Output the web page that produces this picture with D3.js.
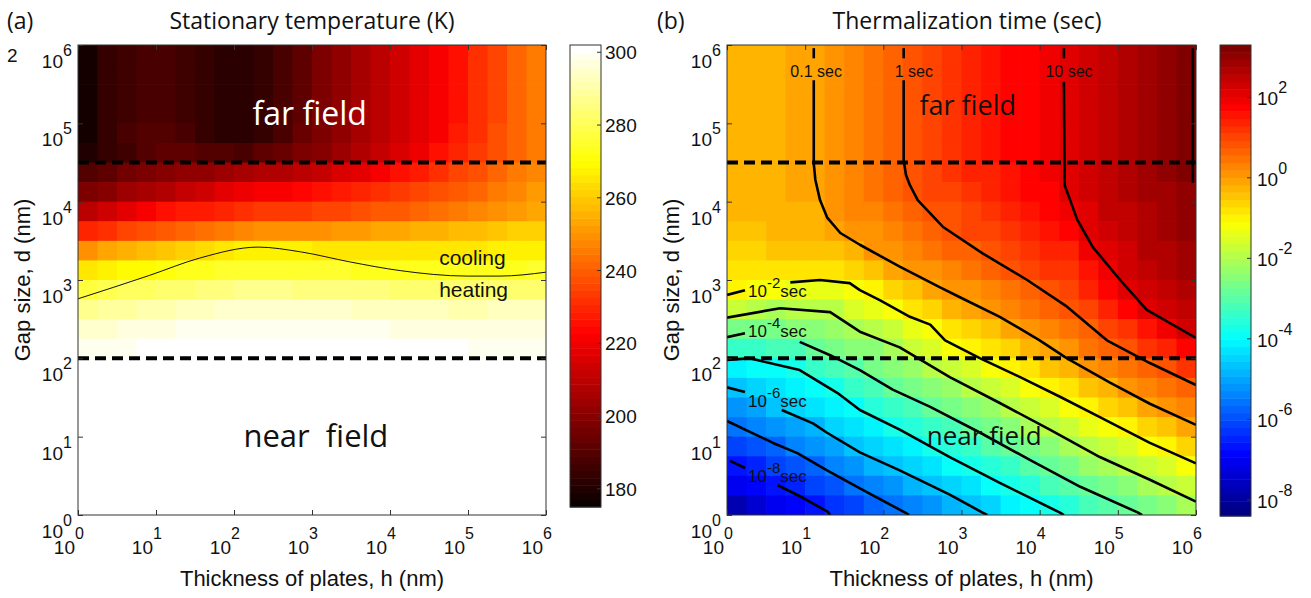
<!DOCTYPE html>
<html>
<head>
<meta charset="utf-8">
<script src="https://cdn.jsdelivr.net/npm/d3@7"></script>
<style>
body { margin:0; background:#fff; }
svg text { font-family: "Liberation Sans", Arial, sans-serif; fill:#111; }
svg text.sans { font-family: "Open Sans", "Liberation Sans", sans-serif; }
</style>
</head>
<body>
<svg id="chart"></svg>
<script>
// ---------- values ----------
// grid cell edges, in decades (same for h and d)
var logEdges = [0,0.25,0.5,0.75,1,1.25,1.5,1.75,2,2.25,2.5,2.75,3,3.25,3.5,3.75,4,4.25,4.5,4.75,5,5.25,5.5,5.75,6];
var decades = [0,1,2,3,4,5,6];
var tempTicks = [180,200,220,240,260,280,300];
var tauTicks = [-8,-6,-4,-2,0,2];
var fieldLimits = [2,4.5];   // log10 d of the dashed near/far field limits

// (a) stationary temperature, K. one row per gap d (top row = 10^6), one value per thickness h
var tempRows = [
  [177,183,186,188,188,186,183,181,181,183,187,192,197,201,205,209,213,217,221,226,231,236,241,245],
  [177,183,186,188,188,186,183,181,181,183,187,192,197,201,205,209,213,217,221,226,231,236,241,245],
  [177,183,186,188,188,186,183,181,181,183,187,192,197,201,205,209,213,217,221,226,231,236,241,245],
  [177,183,186,188,188,186,183,181,181,183,187,192,197,201,205,209,213,217,221,226,231,236,241,245],
  [178,184,187,189,189,187,184,182,182,184,188,193,198,202,206,210,214,218,222,227,232,237,242,246],
  [180,183,186,189,192,191,190,189,188,191,194,197,200,204,208,212,216,220,225,229,233,237,242,246],
  [190,192.5,195,197.5,200,201,202.5,204,205,207,208.5,210,212,215,218.5,222,225,228,231.5,235,238,241,245,248],
  [198,200.5,203,205.5,208,211,214,217,220,221,222.5,224,225,227,229,231,233,235,237.5,240,242,245,248,251],
  [210,214,217.5,221,225,227,228.5,230,232,233,233.5,234,235,236,237.5,239,240,242,243.5,245,247,249,252,254],
  [230,232.5,235,237.5,240,242,244,246,248,248.5,249,249.5,250,251,252,253,254,255,256,257,258,259.5,261,262],
  [250,252.5,255,257.5,260,262,264,265.5,267,267,266.5,266.5,266,266,266,266,266,266,266,266,266,266.5,267,268],
  [265,267,268.5,270,272,273,274,275,276,276,275.5,275,275,274.5,274,273.5,273,273,273,273,273,273.5,274,275],
  [278,279,280.5,282,283,284,285,286,287,287,286.5,286,286,285.5,285,284.5,284,284,283.5,283,283,283.5,284,284],
  [288,289,290,291,292,293,294,295,296,296,295.5,295,295,294.5,294,293.5,293,293,292.5,292,292,292.5,293,293],
  [295,296,296.5,297,298,298.5,299,299.5,300,300,300,300,300,299.5,299,298.5,298,298,297.5,297,297,297.5,298,298],
  [299,299.5,300,300.5,301,301,301.5,302,302,302,302,302,302,302,301.5,301,301,301,300.5,300.5,300,300,300,300],
  [302,302,302,302,302,302,302,302,302,302,302,302,302,302,302,302,302,302,302,302,302,302,302,302],
  [302,302,302,302,302,302,302,302,302,302,302,302,302,302,302,302,302,302,302,302,302,302,302,302],
  [302,302,302,302,302,302,302,302,302,302,302,302,302,302,302,302,302,302,302,302,302,302,302,302],
  [302,302,302,302,302,302,302,302,302,302,302,302,302,302,302,302,302,302,302,302,302,302,302,302],
  [302,302,302,302,302,302,302,302,302,302,302,302,302,302,302,302,302,302,302,302,302,302,302,302],
  [302,302,302,302,302,302,302,302,302,302,302,302,302,302,302,302,302,302,302,302,302,302,302,302],
  [302,302,302,302,302,302,302,302,302,302,302,302,302,302,302,302,302,302,302,302,302,302,302,302],
  [302,302,302,302,302,302,302,302,302,302,302,302,302,302,302,302,302,302,302,302,302,302,302,302]
];

// cooling / heating boundary, [log10 h, log10 d]
var coolHeatLine = [[0,2.76],[0.92,3.06],[1.56,3.28],[2.31,3.42],[2.85,3.36],[3.49,3.23],[4.13,3.12],[4.99,3.05],[5.41,3.05],[6,3.10]];

// (b) log10 of thermalization time (colour value). one column per thickness h, values from d=10^6 down
var tauCols = [
  [-0.3,-0.3,-0.3,-0.3,-0.28,-0.25,-0.25,-0.27,-0.3,-0.38,-0.6,-0.82,-1.05,-1.74,-2.59,-3.38,-4.05,-4.64,-5.15,-5.65,-6.13,-6.63,-7.12,-7.7],
  [-0.25,-0.25,-0.25,-0.25,-0.25,-0.25,-0.24,-0.26,-0.3,-0.38,-0.58,-0.82,-1.15,-1.89,-2.67,-3.39,-4.0,-4.47,-4.95,-5.42,-5.92,-6.42,-6.91,-7.41],
  [-0.2,-0.2,-0.2,-0.2,-0.2,-0.2,-0.2,-0.22,-0.26,-0.33,-0.52,-0.78,-1.26,-2.02,-2.61,-3.26,-3.87,-4.29,-4.71,-5.18,-5.66,-6.14,-6.63,-7.12],
  [-0.12,-0.12,-0.12,-0.12,-0.12,-0.12,-0.12,-0.14,-0.2,-0.3,-0.48,-0.75,-1.36,-1.98,-2.55,-3.13,-3.76,-4.15,-4.54,-4.98,-5.46,-5.92,-6.39,-6.85],
  [0,0,0,0,0,0,-0.02,-0.08,-0.18,-0.3,-0.5,-0.8,-1.38,-1.95,-2.43,-2.89,-3.46,-3.96,-4.34,-4.75,-5.2,-5.67,-6.14,-6.61],
  [0.19,0.19,0.19,0.19,0.19,0.19,0.19,0.15,0.08,-0.1,-0.5,-0.89,-1.33,-1.86,-2.3,-2.71,-3.18,-3.71,-4.11,-4.49,-4.95,-5.39,-5.88,-6.35],
  [0.37,0.37,0.37,0.37,0.37,0.37,0.37,0.33,0.22,0.08,-0.22,-0.7,-1.17,-1.6,-2.03,-2.48,-2.93,-3.39,-3.84,-4.24,-4.64,-5.12,-5.61,-6.09],
  [0.54,0.54,0.54,0.54,0.54,0.54,0.54,0.48,0.34,0.17,0.02,-0.43,-0.91,-1.38,-1.85,-2.37,-2.69,-3.13,-3.58,-4.02,-4.44,-4.88,-5.36,-5.84],
  [0.71,0.71,0.71,0.71,0.71,0.71,0.71,0.64,0.48,0.3,0.12,-0.16,-0.66,-1.15,-1.69,-2.15,-2.5,-2.86,-3.33,-3.81,-4.24,-4.67,-5.12,-5.57],
  [0.87,0.87,0.87,0.87,0.87,0.87,0.87,0.8,0.6,0.41,0.22,0.03,-0.42,-0.9,-1.35,-1.78,-2.22,-2.65,-3.1,-3.57,-4.02,-4.46,-4.91,-5.34],
  [1.03,1.03,1.03,1.03,1.03,1.03,1.03,0.95,0.83,0.62,0.39,0.15,-0.16,-0.64,-1.14,-1.57,-1.98,-2.44,-2.89,-3.33,-3.77,-4.22,-4.68,-5.12],
  [1.19,1.19,1.19,1.19,1.19,1.19,1.15,1.06,0.92,0.82,0.56,0.3,0.05,-0.35,-0.78,-1.23,-1.73,-2.22,-2.66,-3.1,-3.54,-4.0,-4.46,-4.91],
  [1.35,1.35,1.35,1.35,1.35,1.35,1.3,1.2,1.08,0.95,0.74,0.46,0.18,-0.14,-0.56,-0.98,-1.48,-1.98,-2.44,-2.87,-3.32,-3.76,-4.21,-4.65],
  [1.51,1.51,1.51,1.51,1.51,1.51,1.45,1.36,1.23,1.08,0.9,0.62,0.33,0.04,-0.37,-0.79,-1.23,-1.73,-2.2,-2.64,-3.08,-3.52,-3.97,-4.42],
  [1.67,1.67,1.67,1.67,1.67,1.67,1.6,1.5,1.38,1.22,1.02,0.8,0.5,0.21,-0.12,-0.57,-1.0,-1.48,-1.97,-2.41,-2.84,-3.29,-3.73,-4.18],
  [1.82,1.82,1.82,1.82,1.82,1.82,1.76,1.66,1.52,1.35,1.15,0.95,0.68,0.38,0.09,-0.32,-0.78,-1.24,-1.71,-2.16,-2.6,-3.04,-3.5,-3.96],
  [1.98,1.98,1.98,1.98,1.98,1.98,1.92,1.82,1.68,1.52,1.33,1.12,0.87,0.57,0.27,-0.05,-0.53,-1.01,-1.47,-1.94,-2.37,-2.8,-3.27,-3.71],
  [2.14,2.14,2.14,2.14,2.14,2.14,2.12,2.1,1.93,1.7,1.47,1.24,1.02,0.78,0.47,0.17,-0.23,-0.75,-1.24,-1.69,-2.15,-2.58,-3.03,-3.51],
  [2.31,2.31,2.31,2.31,2.31,2.31,2.28,2.24,2.18,2.12,1.93,1.63,1.34,1.03,0.72,0.38,0.03,-0.46,-0.99,-1.45,-1.9,-2.35,-2.78,-3.27],
  [2.48,2.48,2.48,2.48,2.48,2.48,2.48,2.45,2.4,2.3,2.2,2.01,1.68,1.35,1.01,0.65,0.26,-0.18,-0.72,-1.23,-1.67,-2.12,-2.58,-3.04],
  [2.64,2.64,2.64,2.64,2.64,2.64,2.62,2.58,2.52,2.44,2.34,2.22,2.07,1.66,1.25,0.86,0.46,0.07,-0.45,-0.99,-1.46,-1.91,-2.38,-2.84],
  [2.81,2.81,2.81,2.81,2.81,2.81,2.79,2.76,2.72,2.66,2.58,2.47,2.33,2.14,1.65,1.15,0.67,0.28,-0.16,-0.7,-1.22,-1.7,-2.18,-2.63],
  [2.98,2.98,2.98,2.98,2.98,2.98,2.96,2.93,2.89,2.83,2.75,2.64,2.5,2.22,1.9,1.39,0.89,0.47,0.07,-0.44,-0.99,-1.46,-1.93,-2.41],
  [3.15,3.15,3.15,3.15,3.15,3.15,3.12,3.08,3.03,2.96,2.88,2.78,2.66,2.5,2.25,1.68,1.15,0.67,0.27,-0.16,-0.72,-1.24,-1.71,-2.18]
];

// iso-time contours, [log10 h, log10 d]; gaps are where the labels sit
var tauContours = [
  [[[0.04,0.69],[0.23,0.60]], [[0.65,0.38],[0.97,0.22],[1.29,0.04],[1.32,0]]],
  [[[0,1.2],[0.59,0.92],[0.9,0.79],[1.28,0.57],[1.7,0.34],[2.28,0.03],[2.33,0]]],
  [[[0,1.63],[0.23,1.57]], [[0.7,1.34],[1.1,1.17],[1.28,1.05],[1.7,0.8],[2.21,0.57],[2.85,0.26],[3.27,0.03],[3.33,0]]],
  [[[0,1.98],[0.29,2.0],[0.93,1.85],[1.41,1.56],[1.7,1.34],[2.21,1.09],[2.85,0.74],[3.49,0.41],[4.26,0.03],[4.31,0]]],
  [[[0,2.27],[0.23,2.32]], [[0.93,2.21],[1.32,2.04],[1.7,1.85],[2.12,1.6],[2.6,1.38],[3.24,1.05],[3.88,0.7],[4.52,0.36],[5.26,0.03],[5.31,0]]],
  [[[0,2.52],[0.68,2.64],[1.32,2.59],[1.7,2.34],[2.21,2.14],[2.85,1.76],[3.49,1.43],[4.13,1.09],[4.77,0.74],[5.41,0.45],[6,0.17]]],
  [[[0,2.81],[0.23,2.87]], [[0.81,2.97],[1.19,3.0],[1.57,2.96],[1.7,2.87],[1.96,2.74],[2.34,2.53],[2.6,2.43],[2.79,2.23],[3.24,2.0],[3.75,1.76],[4.26,1.51],[4.77,1.25],[5.41,0.92],[6,0.66]]],
  [[[1.11,5.96],[1.11,5.83]], [[1.11,5.55],[1.11,4.49],[1.13,4.28],[1.19,4.02],[1.28,3.8],[1.45,3.6],[1.7,3.45],[2.21,3.17],[2.72,2.91],[2.98,2.78],[3.49,2.53],[4.0,2.23],[4.35,2.0],[4.9,1.69],[5.41,1.42],[6,1.15]]],
  [[[2.26,5.96],[2.26,5.83]], [[2.26,5.55],[2.26,4.53],[2.29,4.34],[2.34,4.21],[2.44,4.02],[2.76,3.68],[3.27,3.34],[3.84,3.0],[4.35,2.66],[4.86,2.23],[5.41,1.94],[6,1.66]]],
  [[[4.31,5.96],[4.31,5.83]], [[4.31,5.53],[4.32,4.21],[4.39,4.02],[4.48,3.77],[4.68,3.42],[5.03,3.0],[5.37,2.62],[6,2.26]]],
  [[[5.96,5.96],[5.96,4.24]]]
];
var secLabels = [{text:"0.1 sec", h:1.14, d:5.59}, {text:"1 sec", h:2.39, d:5.59}, {text:"10 sec", h:4.375, d:5.59}];
var powLabels = [{exp:"-2", h:0.27, d:2.78}, {exp:"-4", h:0.27, d:2.27}, {exp:"-6", h:0.27, d:1.38}, {exp:"-8", h:0.27, d:0.42}];

// ---------- drawing ----------
var svg = d3.select("#chart").attr("width",1311).attr("height",598);
var pow10 = function(e){ return Math.pow(10,e); };

var boxA = {left:78, right:546, top:45, bottom:515};
var boxB = {left:727, right:1196, top:45, bottom:515};
var barA = {left:570, right:601, top:45, bottom:507};
var barB = {left:1220, right:1251, top:45, bottom:516};

var hot = d3.scaleLinear().domain([0,0.375,0.75,1]).range(["#0b0000","#ff0000","#ffff00","#ffffff"]);
var jet = d3.scaleLinear().domain([0,0.125,0.375,0.625,0.875,1])
            .range(["#000080","#0000ff","#00ffff","#ffff00","#ff0000","#800000"]);

// 64 steps, like the matlab colormaps (first and last step hit the ends)
var quantized = function(map, lo, hi) {
    return function(v) {
        var k = Math.floor((v-lo)/(hi-lo)*64);
        k = Math.max(0, Math.min(63, k));
        return map(k/63);
    };
};
var tempColor = quantized(hot, 175, 302);
var tauColor = quantized(jet, -8.4, 3.3);

var makeScales = function(box) {
    return {
        x: d3.scaleLog().domain([1,1e6]).range([box.left, box.right]),
        y: d3.scaleLog().domain([1,1e6]).range([box.bottom, box.top])
    };
};

var drawHeat = function(id, box, sc, valueAt, color) {
    svg.append("clipPath").attr("id","clip-"+id).append("rect")
        .attr("x",box.left).attr("y",box.top)
        .attr("width",box.right-box.left).attr("height",box.bottom-box.top);
    var n = logEdges.length-1;
    var cells = [];
    for (var i = 0; i < n; i++) {
        for (var j = 0; j < n; j++) cells.push({i:i, j:j, v:valueAt(i,j)});
    }
    svg.append("g").attr("clip-path","url(#clip-"+id+")")
        .selectAll("rect").data(cells).enter().append("rect")
        .attr("x", function(d){ return sc.x(pow10(logEdges[d.i])); })
        .attr("y", function(d){ return sc.y(pow10(logEdges[n-d.j])); })
        .attr("width", function(d){ return sc.x(pow10(logEdges[d.i+1])) - sc.x(pow10(logEdges[d.i])) + 0.7; })
        .attr("height", function(d){ return sc.y(pow10(logEdges[n-d.j-1])) - sc.y(pow10(logEdges[n-d.j])) + 0.7; })
        .attr("fill", function(d){ return color(d.v); });
    return svg.append("g").attr("clip-path","url(#clip-"+id+")");
};

var drawDashes = function(g, sc) {
    g.selectAll("line.limit").data(fieldLimits).enter().append("line")
        .attr("x1", sc.x(1)).attr("x2", sc.x(1e6))
        .attr("y1", function(d){ return sc.y(pow10(d)); })
        .attr("y2", function(d){ return sc.y(pow10(d)); })
        .attr("stroke","#000").attr("stroke-width",4).attr("stroke-dasharray","11,6");
};

var drawFrame = function(box, sc) {
    var g = svg.append("g");
    var vals = decades.map(pow10);
    g.append("g").attr("transform","translate(0,"+box.bottom+")")
        .call(d3.axisBottom(sc.x).tickValues(vals).tickSize(-5).tickFormat(""));
    g.append("g").attr("transform","translate(0,"+box.top+")")
        .call(d3.axisTop(sc.x).tickValues(vals).tickSize(-5).tickFormat(""));
    g.append("g").attr("transform","translate("+box.left+",0)")
        .call(d3.axisLeft(sc.y).tickValues(vals).tickSize(-5).tickFormat(""));
    g.append("g").attr("transform","translate("+box.right+",0)")
        .call(d3.axisRight(sc.y).tickValues(vals).tickSize(-5).tickFormat(""));
    g.selectAll(".domain").remove();
    g.selectAll(".tick line").attr("stroke","#333");
    g.append("rect").attr("x",box.left).attr("y",box.top)
        .attr("width",box.right-box.left).attr("height",box.bottom-box.top)
        .attr("fill","none").attr("stroke","#333").attr("stroke-width",1);

    decades.forEach(function(e) {
        var tx = sc.x(pow10(e)), ty = sc.y(pow10(e));
        g.append("text").attr("x",tx-3).attr("y",554).attr("text-anchor","end").attr("font-size",19).text("10");
        g.append("text").attr("x",tx-3).attr("y",539).attr("font-size",16).text(e);
        g.append("text").attr("x",box.left-15).attr("y",ty+23).attr("text-anchor","end").attr("font-size",19).text("10");
        g.append("text").attr("x",box.left-15).attr("y",ty+11).attr("font-size",16).text(e);
    });

    var cx = (box.left+box.right)/2;
    g.append("text").attr("x",cx).attr("y",586).attr("text-anchor","middle").attr("font-size",22)
        .text("Thickness of plates, h (nm)");
    g.append("text").attr("transform","translate("+(box.left-48)+","+((box.top+box.bottom)/2)+") rotate(-90)")
        .attr("text-anchor","middle").attr("font-size",22).text("Gap size, d (nm)");
};

var drawBar = function(bar, lo, hi, color) {
    var yb = d3.scaleLinear().domain([lo,hi]).range([bar.bottom, bar.top]);
    var g = svg.append("g");
    g.selectAll("rect").data(d3.range(64)).enter().append("rect")
        .attr("x",bar.left).attr("width",bar.right-bar.left)
        .attr("y", function(k){ return yb(lo+(k+1)*(hi-lo)/64); })
        .attr("height", function(k){ return yb(lo+k*(hi-lo)/64) - yb(lo+(k+1)*(hi-lo)/64) + 0.5; })
        .attr("fill", function(k){ return color(lo+(k+0.5)*(hi-lo)/64); });
    g.append("rect").attr("x",bar.left).attr("y",bar.top)
        .attr("width",bar.right-bar.left).attr("height",bar.bottom-bar.top)
        .attr("fill","none").attr("stroke","#333");
    return {g:g, y:yb};
};

// ----- panel (a) -----
var scA = makeScales(boxA);
var overA = drawHeat("a", boxA, scA, function(i,j){ return tempRows[j][i]; }, tempColor);
overA.append("path").datum(coolHeatLine)
    .attr("d", d3.line().curve(d3.curveMonotoneX)
        .x(function(p){ return scA.x(pow10(p[0])); })
        .y(function(p){ return scA.y(pow10(p[1])); }))
    .attr("fill","none").attr("stroke","#111").attr("stroke-width",1);
drawDashes(overA, scA);
drawFrame(boxA, scA);

svg.append("text").attr("class","sans").attr("x",scA.x(pow10(2.97))).attr("y",scA.y(pow10(4.98)))
    .attr("text-anchor","middle").attr("font-size",32).style("fill","#fff").text("far field");
svg.append("text").attr("class","sans").attr("x",scA.x(pow10(3.05))).attr("y",scA.y(pow10(0.87)))
    .attr("text-anchor","middle").attr("font-size",31).attr("xml:space","preserve").text("near  field");
svg.append("text").attr("x",scA.x(pow10(4.63))).attr("y",scA.y(pow10(3.19))).attr("font-size",21).text("cooling");
svg.append("text").attr("x",scA.x(pow10(4.63))).attr("y",scA.y(pow10(2.78))).attr("font-size",21).text("heating");

var cbA = drawBar(barA, 175, 302, tempColor);
tempTicks.forEach(function(t) {
    var ty = cbA.y(t);
    cbA.g.append("line").attr("x1",barA.right-4).attr("x2",barA.right).attr("y1",ty).attr("y2",ty).attr("stroke","#333");
    cbA.g.append("text").attr("x",barA.right+4).attr("y",ty+7).attr("font-size",19).text(t);
});

// ----- panel (b) -----
var scB = makeScales(boxB);
var overB = drawHeat("b", boxB, scB, function(i,j){ return tauCols[i][j]; }, tauColor);
var lineB = d3.line()
    .x(function(p){ return scB.x(pow10(p[0])); })
    .y(function(p){ return scB.y(pow10(p[1])); });
tauContours.forEach(function(segs) {
    overB.selectAll(null).data(segs).enter().append("path")
        .attr("d", lineB).attr("fill","none").attr("stroke","#000")
        .attr("stroke-width",2.6).attr("stroke-linejoin","round");
});
drawDashes(overB, scB);
drawFrame(boxB, scB);

secLabels.forEach(function(l) {
    svg.append("text").attr("x",scB.x(pow10(l.h))).attr("y",scB.y(pow10(l.d)))
        .attr("text-anchor","middle").attr("font-size",16).text(l.text);
});
powLabels.forEach(function(l) {
    var t = svg.append("text").attr("x",scB.x(pow10(l.h))).attr("y",scB.y(pow10(l.d))).attr("font-size",17);
    t.append("tspan").text("10");
    t.append("tspan").attr("dy",-9).attr("font-size",15).text(l.exp);
    t.append("tspan").attr("dy",9).text("sec");
});
svg.append("text").attr("class","sans").attr("x",scB.x(pow10(3.08))).attr("y",scB.y(pow10(5.11)))
    .attr("text-anchor","middle").attr("font-size",27).text("far field");
svg.append("text").attr("class","sans").attr("x",scB.x(pow10(3.29))).attr("y",scB.y(pow10(0.89)))
    .attr("text-anchor","middle").attr("font-size",26).text("near field");

var cbB = drawBar(barB, -8.4, 3.3, tauColor);
tauTicks.forEach(function(t) {
    var ty = cbB.y(t);
    cbB.g.append("line").attr("x1",barB.right-4).attr("x2",barB.right).attr("y1",ty).attr("y2",ty).attr("stroke","#333");
    var lab = cbB.g.append("text").attr("x",barB.right+6).attr("y",ty+8).attr("font-size",19);
    lab.append("tspan").text("10");
    lab.append("tspan").attr("dy",-12).attr("font-size",16).text(t);
});

// ----- titles -----
svg.append("text").attr("class","sans").attr("x",7).attr("y",29).attr("font-size",23).text("(a)");
svg.append("text").attr("class","sans").attr("x",312).attr("y",29).attr("text-anchor","middle").attr("font-size",23)
    .text("Stationary temperature (K)");
svg.append("text").attr("class","sans").attr("x",657).attr("y",29).attr("font-size",23).text("(b)");
svg.append("text").attr("class","sans").attr("x",967).attr("y",29).attr("text-anchor","middle").attr("font-size",23)
    .text("Thermalization time (sec)");
svg.append("text").attr("x",7).attr("y",62).attr("font-size",19).text("2");
</script>
</body>
</html>
